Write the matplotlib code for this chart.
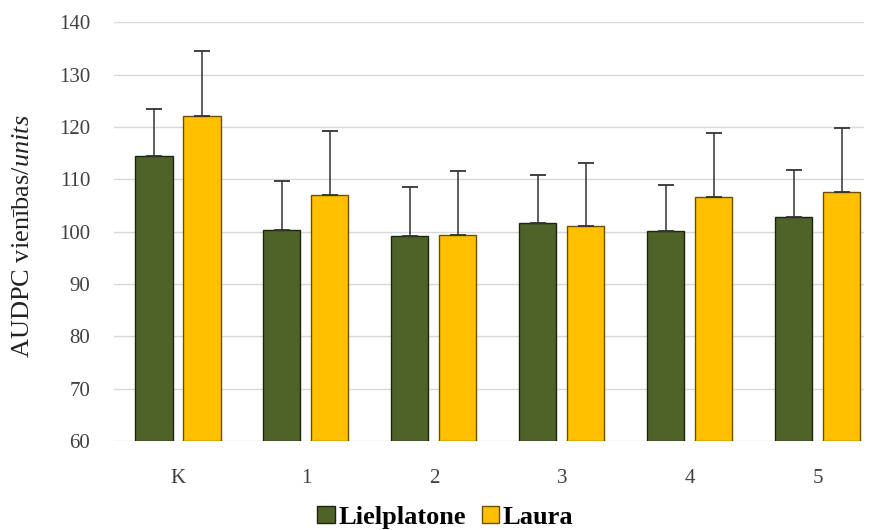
import matplotlib
matplotlib.use("Agg")
import matplotlib.pyplot as plt
import numpy as np

# Dati
kategorijas = ["K", "1", "2", "3", "4", "5"]
lielplatone = [114.4, 100.3, 99.2, 101.7, 100.1, 102.8]
lielplatone_err = [9.0, 9.4, 9.3, 9.1, 8.9, 8.9]
laura = [122.1, 107.0, 99.3, 101.0, 106.6, 107.5]
laura_err = [12.4, 12.2, 12.2, 12.2, 12.2, 12.3]
y_ticks = [60, 70, 80, 90, 100, 110, 120, 130, 140]

plt.rcParams['font.family'] = ['Liberation Serif', 'DejaVu Serif']
plt.rcParams['mathtext.fontset'] = 'custom'
plt.rcParams['mathtext.rm'] = 'Liberation Serif'
plt.rcParams['mathtext.it'] = 'Liberation Serif:italic'

fig = plt.figure(figsize=(8.7, 5.3), dpi=100)
ax = fig.add_axes([0.131, 0.168, 0.862, 0.790])

x = np.arange(len(kategorijas))
w = 0.29
off = 0.1875
bottom = 60

ax.bar(x - off, np.array(lielplatone) - bottom, w, bottom=bottom,
       color='#4f6228', edgecolor='#1e2410', linewidth=1, zorder=3,
       label='Lielplatone')
ax.bar(x + off, np.array(laura) - bottom, w, bottom=bottom,
       color='#ffc000', edgecolor='#6b4f10', linewidth=1, zorder=3,
       label='Laura')

# Kļūdu stabiņi tikai uz augšu
ax.errorbar(x - off, lielplatone, yerr=[np.zeros(len(x)), lielplatone_err],
            fmt='none', ecolor='#333333', elinewidth=1.1, capsize=6, capthick=1.3, zorder=4)
ax.errorbar(x + off, laura, yerr=[np.zeros(len(x)), laura_err],
            fmt='none', ecolor='#333333', elinewidth=1.1, capsize=6, capthick=1.3, zorder=4)

ax.set_ylim(60, 140)
ax.set_xlim(-0.5, 5.36)
ax.set_yticks(y_ticks)
ax.set_xticks(x)
ax.set_xticklabels(kategorijas)
ax.tick_params(axis='both', length=0, labelsize=15, colors='#404040')
ax.tick_params(axis='y', pad=17)
ax.tick_params(axis='x', pad=20)
ax.yaxis.grid(True, color='#d9d9d9', linewidth=1, zorder=0)
for s in ax.spines.values():
    s.set_visible(False)

fig.text(23 / 870, 1 - 236 / 530, r"AUDPC vienības/$\it{units}$", rotation=90,
         ha='center', va='center', fontsize=19, color='#222222')

leg = fig.legend(loc='center', bbox_to_anchor=(0.512, 0.024), ncol=2, frameon=False,
                 prop={'weight': 'bold', 'size': 19}, handlelength=0.65, handleheight=0.65,
                 handletextpad=0.15, columnspacing=0.6, borderpad=0)

fig.savefig("out.png", dpi=100)
